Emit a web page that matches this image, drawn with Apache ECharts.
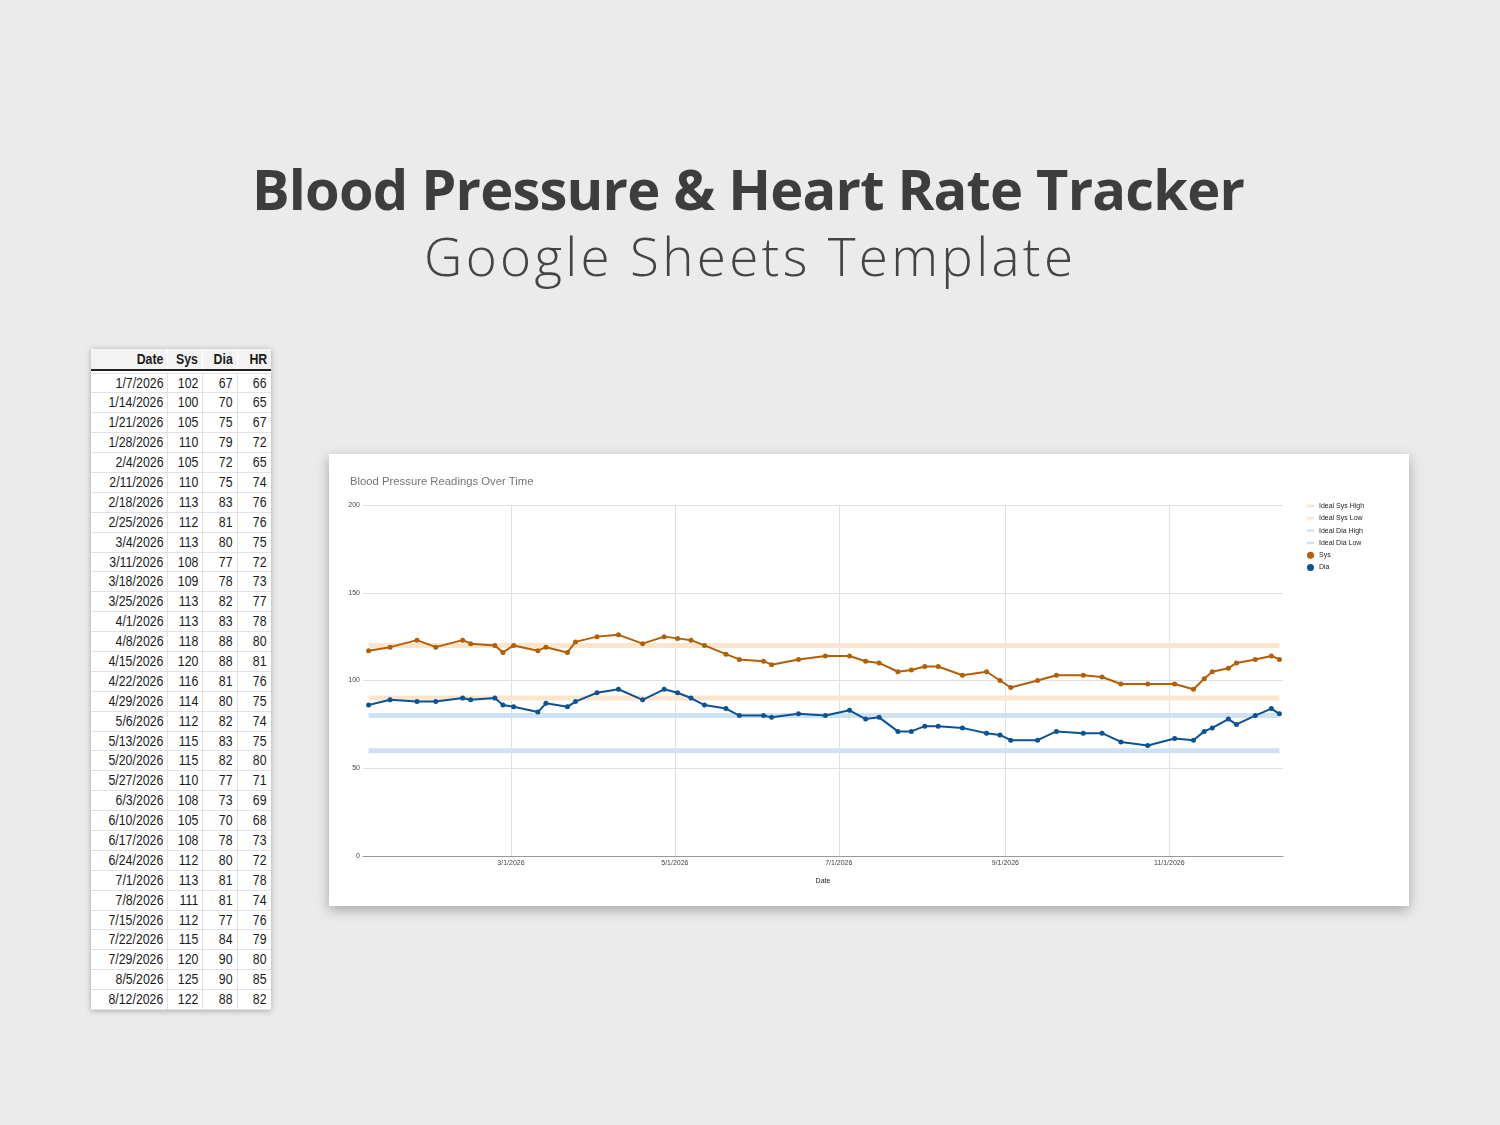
<!DOCTYPE html>
<html><head><meta charset="utf-8">
<script src="https://cdn.jsdelivr.net/npm/echarts@6/dist/echarts.min.js"></script>
<style>
html,body{margin:0;padding:0;width:1500px;height:1125px;background:#ebebeb;overflow:hidden;font-family:"Liberation Sans",Arial,sans-serif;}
.ttl{position:absolute;white-space:nowrap;font-family:"Open Sans",sans-serif;line-height:1;}
#t1{left:252px;top:160px;font-weight:700;font-size:56px;color:#3d3d3d;}
#t2{left:424px;top:229px;font-weight:300;font-size:53px;color:#444;}
#sheet{position:absolute;left:91px;top:348.5px;width:180px;background:#fff;box-shadow:0 1px 6px rgba(0,0,0,0.28);}
.hdr{display:flex;height:22px;box-sizing:border-box;background:#f3f3f3;border-bottom:2px solid #222;font-weight:bold;}
.hdr .c{border-right:1px solid #fff;line-height:20px;}
.spacer{height:2px;background:#fff;}
#rows{border-top:1px solid #e2e2e2;}
.row{display:flex;height:19.9px;box-sizing:border-box;border-bottom:1px solid #e2e2e2;}
.c{box-sizing:border-box;text-align:right;padding-right:4px;border-right:1px solid #e2e2e2;line-height:19px;font-size:14px;color:#1a1a1a;overflow:hidden;white-space:nowrap;}
.c span{display:inline-block;transform:scaleX(0.88);transform-origin:100% 50%;}
.c:nth-child(1){width:77px;}
.c:nth-child(2){width:35px;}
.c:nth-child(3){width:35px;}
.c:nth-child(4){width:33px;border-right:none;}
#card{position:absolute;left:329px;top:454px;width:1080px;height:452px;background:#fff;box-shadow:0 4px 12px rgba(0,0,0,0.3);}
</style>
</head>
<body>
<div id="t1" class="ttl">Blood Pressure &amp; Heart Rate Tracker</div>
<div id="t2" class="ttl">Google Sheets Template</div>
<div id="sheet">
  <div class="hdr" id="hdr"></div>
  <div class="spacer"></div>
  <div id="rows"></div>
</div>
<div id="card"></div>
<script>
// ---- Table data ----
const tableHeaders = ['Date', 'Sys', 'Dia', 'HR'];
const tableDates = ['1/7/2026','1/14/2026','1/21/2026','1/28/2026','2/4/2026','2/11/2026','2/18/2026','2/25/2026','3/4/2026','3/11/2026','3/18/2026','3/25/2026','4/1/2026','4/8/2026','4/15/2026','4/22/2026','4/29/2026','5/6/2026','5/13/2026','5/20/2026','5/27/2026','6/3/2026','6/10/2026','6/17/2026','6/24/2026','7/1/2026','7/8/2026','7/15/2026','7/22/2026','7/29/2026','8/5/2026','8/12/2026'];
const tableSys = [102,100,105,110,105,110,113,112,113,108,109,113,113,118,120,116,114,112,115,115,110,108,105,108,112,113,111,112,115,120,125,122];
const tableDia = [67,70,75,79,72,75,83,81,80,77,78,82,83,88,88,81,80,82,83,82,77,73,70,78,80,81,81,77,84,90,90,88];
const tableHR = [66,65,67,72,65,74,76,76,75,72,73,77,78,80,81,76,75,74,75,80,71,69,68,73,72,78,74,76,79,80,85,82];

// ---- Chart data ----
const chartTitle = 'Blood Pressure Readings Over Time';
const chartDates = ['2026-01-07','2026-01-15','2026-01-25','2026-02-01','2026-02-11','2026-02-14','2026-02-23','2026-02-26','2026-03-02','2026-03-11','2026-03-14','2026-03-22','2026-03-25','2026-04-02','2026-04-10','2026-04-19','2026-04-27','2026-05-02','2026-05-07','2026-05-12','2026-05-20','2026-05-25','2026-06-03','2026-06-06','2026-06-16','2026-06-26','2026-07-05','2026-07-11','2026-07-16','2026-07-23','2026-07-28','2026-08-02','2026-08-07','2026-08-16','2026-08-25','2026-08-30','2026-09-03','2026-09-13','2026-09-20','2026-09-30','2026-10-07','2026-10-14','2026-10-24','2026-11-03','2026-11-10','2026-11-14','2026-11-17','2026-11-23','2026-11-26','2026-12-03','2026-12-09','2026-12-12'];
const sysValues = [117,119,123,119,123,121,120,116,120,117,119,116,122,125,126,121,125,124,123,120,115,112,111,109,112,114,114,111,110,105,106,108,108,103,105,100,96,100,103,103,102,98,98,98,95,101,105,107,110,112,114,112];
const diaValues = [86,89,88,88,90,89,90,86,85,82,87,85,88,93,95,89,95,93,90,86,84,80,80,79,81,80,83,78,79,71,71,74,74,73,70,69,66,66,71,70,70,65,63,67,66,71,73,78,75,80,84,81];
const bandNames = ['Ideal Sys High','Ideal Sys Low','Ideal Dia High','Ideal Dia Low'];
const bandValues = [120, 90, 80, 60];
const xTickDates = ['2026-03-01','2026-05-01','2026-07-01','2026-09-01','2026-11-01'];
const xAxisName = 'Date';

// ---- Build table ----
function cell(v) { const c = document.createElement('div'); c.className = 'c'; const s = document.createElement('span'); s.textContent = v; c.appendChild(s); return c; }
const hdr = document.getElementById('hdr');
tableHeaders.forEach(h => hdr.appendChild(cell(h)));
const rowsEl = document.getElementById('rows');
tableDates.forEach((d, i) => {
  const r = document.createElement('div'); r.className = 'row';
  [d, tableSys[i], tableDia[i], tableHR[i]].forEach(v => r.appendChild(cell(v)));
  rowsEl.appendChild(r);
});

// ---- Fit titles ----
function fit(id, target) {
  const el = document.getElementById(id);
  el.style.letterSpacing = '0px';
  const w = el.getBoundingClientRect().width;
  const n = el.textContent.length;
  el.style.letterSpacing = ((target - w) / (n - 1)) + 'px';
}
function fitAll() { fit('t1', 993); fit('t2', 649); }
fitAll();
if (document.fonts && document.fonts.ready) document.fonts.ready.then(fitAll);

// ---- Chart ----
const parseD = s => { const p = s.split('-').map(Number); return new Date(p[0], p[1] - 1, p[2]).getTime(); };
const tickVals = xTickDates.map(parseD);
const xs = chartDates.map(parseD);
const firstX = xs[0], lastX = xs[xs.length - 1];
const bandColors = ['#fce5cd', '#fce5cd', '#cfe2f3', '#cfe2f3'];
const txt = 'Liberation Sans, Arial, sans-serif';

const series = bandNames.map((n, i) => ({
  name: n, type: 'line', symbol: 'none', silent: true, z: 1,
  data: [[firstX, bandValues[i]], [lastX, bandValues[i]]],
  lineStyle: { width: 5, color: bandColors[i] }, itemStyle: { color: bandColors[i] },
  emphasis: { disabled: true }
}));
// vertical grid lines at tick dates
series[0].markLine = {
  silent: true, symbol: ['none', 'none'], label: { show: false }, z: 0,
  lineStyle: { color: '#e0e0e0', width: 1, type: 'solid' },
  emphasis: { disabled: true },
  data: tickVals.map(v => ({ xAxis: v }))
};
series.push({
  name: 'Sys', type: 'line', z: 3, symbol: 'circle', symbolSize: 5, showSymbol: true,
  data: xs.map((x, i) => [x, sysValues[i]]),
  lineStyle: { width: 2, color: '#b45f06' }, itemStyle: { color: '#b45f06' },
  emphasis: { disabled: true }
});
series.push({
  name: 'Dia', type: 'line', z: 3, symbol: 'circle', symbolSize: 5, showSymbol: true,
  data: xs.map((x, i) => [x, diaValues[i]]),
  lineStyle: { width: 2, color: '#0b5394' }, itemStyle: { color: '#0b5394' },
  emphasis: { disabled: true }
});

const lineIcon = 'path://M0,0H7V2.5H0Z';
const chart = echarts.init(document.getElementById('card'), null, { renderer: 'canvas' });
chart.setOption({
  animation: false,
  backgroundColor: '#ffffff',
  title: { text: chartTitle, left: 21, top: 22, padding: 0, textStyle: { fontSize: 11.3, fontWeight: 'normal', color: '#757575', fontFamily: txt } },
  legend: {
    orient: 'vertical', left: 978, top: 48.5, padding: 0, itemWidth: 7, itemHeight: 7, itemGap: 5.3,
    symbolKeepAspect: true,
    textStyle: { fontSize: 7, color: '#222', fontFamily: txt },
    data: bandNames.map(n => ({ name: n, icon: lineIcon })).concat([{ name: 'Sys', icon: 'circle' }, { name: 'Dia', icon: 'circle' }])
  },
  grid: { left: 34, right: 126, top: 51, bottom: 50, containLabel: false },
  xAxis: {
    type: 'value',
    min: new Date(2026, 0, 4, 22).getTime(),
    max: new Date(2026, 11, 13, 8).getTime(),
    name: xAxisName, nameLocation: 'middle', nameGap: 22,
    nameTextStyle: { fontSize: 7, color: '#222', fontFamily: txt },
    axisLine: { onZero: true, lineStyle: { color: '#999', width: 1 } },
    axisTick: { show: false, customValues: tickVals },
    axisLabel: {
      customValues: tickVals, fontSize: 7, color: '#444', margin: 4, fontFamily: txt, hideOverlap: false,
      formatter: v => { const d = new Date(v); return (d.getMonth() + 1) + '/' + d.getDate() + '/' + d.getFullYear(); }
    },
    splitLine: { show: false }
  },
  yAxis: {
    type: 'value', min: 0, max: 200, interval: 50,
    axisLine: { show: false }, axisTick: { show: false },
    axisLabel: { fontSize: 7, color: '#444', margin: 3, fontFamily: txt },
    splitLine: { lineStyle: { color: '#e0e0e0', width: 1 } }
  },
  series: series
});
</script>
</body></html>
